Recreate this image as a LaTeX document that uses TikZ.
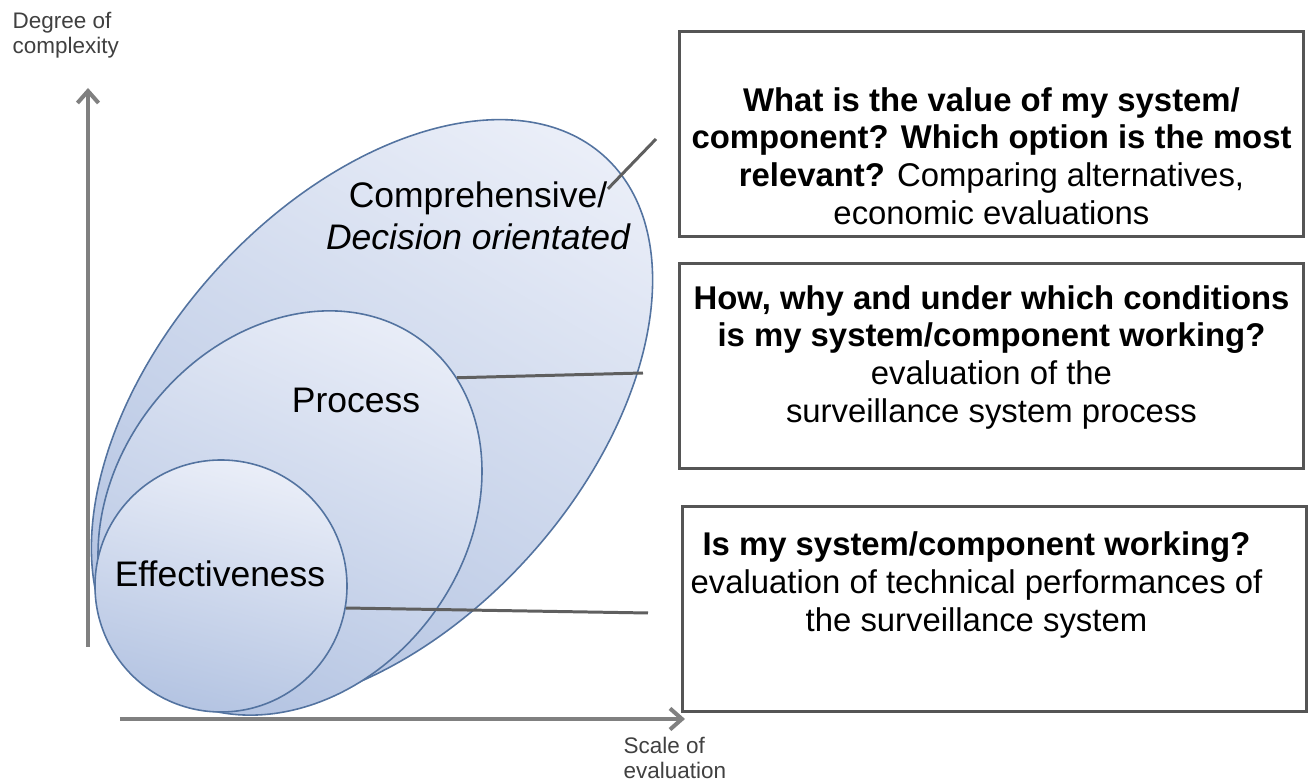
\documentclass[tikz,border=0pt]{standalone}
\usepackage{fontspec}
\setmainfont{Liberation Sans}
\usetikzlibrary{positioning,arrows.meta,shapes.geometric}

\definecolor{ellline}{HTML}{5373A0}
\definecolor{elltop}{HTML}{EAEEF8}
\definecolor{ellbottom}{HTML}{B4C4E2}
\definecolor{axisgray}{HTML}{808080}
\definecolor{boxgray}{HTML}{555555}
\definecolor{linkgray}{HTML}{5F5F5F}
\definecolor{labelgray}{HTML}{404040}

\begin{document}
\begin{tikzpicture}[every node/.style={align=center, inner sep=0pt},
    level/.style={ellipse, draw=ellline, line width=0.45pt, top color=elltop, bottom color=ellbottom},
    levellabel/.style={font=\fontsize{10.1}{12}\selectfont, anchor=base},
    qbox/.style={draw=boxgray, line width=0.85pt, minimum width=6.24cm, minimum height=2.05cm},
    qtext/.style={font=\fontsize{9.35}{10.8}\selectfont, anchor=north},
    link/.style={draw=linkgray, line width=0.85pt},
    axis/.style={draw=axisgray, line width=1.15pt, -{Straight Barb[length=3.4pt, width=6pt]}},
    axislabel/.style={font=\fontsize{6.4}{7.1}\selectfont, text=labelgray, align=left, anchor=north west}]
                \useasboundingbox (0,0) rectangle (13.12,7.82);

                % nested evaluation levels
                \node[level, shading angle=-30, minimum width=4.24cm, minimum height=6.94cm, rotate=-42] (compr) at (3.72,3.68) {};
                \node[level, shading angle=-24, minimum width=3.50cm, minimum height=4.34cm, rotate=-38] (proc) at (2.90,2.69) {};
                \node[level, shading angle=-15, circle, minimum size=2.52cm] (effect) at (2.21,1.96) {};

                \node[levellabel] (comp) at (4.78,5.74) {Comprehensive/};
                \node[levellabel] (dec) at (4.78,5.32) {\itshape Decision orientated};
                \node[levellabel] (proclabel) at (3.56,3.69) {Process};
                \node[levellabel] (efflabel) at (2.20,1.95) {Effectiveness};

                % axes
                \coordinate (yfoot) at (0.88,1.35);
                \coordinate (ytip) at (0.88,6.94);
                \coordinate (xfoot) at (1.20,0.63);
                \coordinate (xtip) at (6.85,0.63);
                \draw[axis] (yfoot) -- (ytip);
                \draw[axis] (xfoot) -- (xtip);
                \node[axislabel] (ylabel) at (0.12,7.70) {Degree of\\complexity};
                \node[axislabel] (xlabel) at (6.23,0.45) {Scale of\\evaluation};

                % question boxes
                \node[qbox] (bx1) at (9.915,6.475) {};
                \node[qbox, below=0.24cm of bx1] (bx2) {};
                \node[qbox, below=0.35cm of bx2, xshift=0.03cm] (bx3) {};

                \node[qtext] (tx1) at ([yshift=-0.56cm]bx1.north) {
                    \textbf{What is the value of my system/}\\
                    \textbf{component? Which option is the most}\\
                    \textbf{relevant?} Comparing alternatives,\\
                    economic evaluations
                };
                \node[qtext] (tx2) at ([yshift=-0.22cm]bx2.north) {
                    \textbf{How, why and under which conditions}\\
                    \textbf{is my system/component working?}\\
                    evaluation of the\\
                    surveillance system process
                };
                \node[qtext] (tx3) at ([xshift=-0.18cm, yshift=-0.26cm]bx3.north) {
                    \textbf{Is my system/component working?}\\
                    evaluation of technical performances of\\
                    the surveillance system
                };

                % pointers from levels towards the boxes
                \coordinate (end1) at (6.56,6.43);
                \coordinate (end2) at (6.43,4.09);
                \coordinate (end3) at (6.48,1.69);
                \draw[link] ([yshift=0.1cm]comp.east) -- (end1);
                \draw[link] (proc.77) -- (end2);
                \draw[link] (effect.-10) -- (end3);
            \end{tikzpicture}
\end{document}
